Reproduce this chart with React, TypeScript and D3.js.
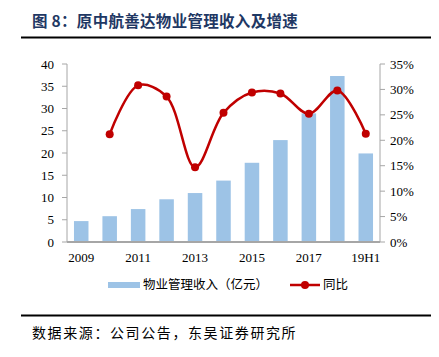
import React from "react";
import * as d3 from "d3";

const categories = ["2009", "2010", "2011", "2012", "2013", "2014", "2015", "2016", "2017", "2018", "19H1"];
const revenue = [4.7, 5.8, 7.4, 9.6, 11.0, 13.8, 17.8, 22.9, 28.9, 37.3, 19.9];
const yoy = [null, 21.2, 30.8, 28.6, 14.7, 25.4, 29.4, 29.2, 25.2, 29.8, 21.3];
const leftTicks = [0, 5, 10, 15, 20, 25, 30, 35, 40];
const rightTicks = [0, 5, 10, 15, 20, 25, 30, 35];
const xLabels = ["2009", "2011", "2013", "2015", "2017", "19H1"];

const W = 439, H = 357;
const L = 67, R = 380, T = 64, B = 242;
const serif = "'Liberation Serif', 'Times New Roman', serif";
const cjk = "'Noto Sans CJK SC', sans-serif";

export default function App() {
  const x = d3.scaleBand<string>().domain(categories).range([L, R]).paddingInner(0.49).paddingOuter(0.245);
  const yL = d3.scaleLinear().domain([0, 40]).range([B, T]);
  const yR = d3.scaleLinear().domain([0, 35]).range([B, T]);
  const pts = categories
    .map((c, i) => ({ c, v: yoy[i] }))
    .filter((d) => d.v !== null) as { c: string; v: number }[];
  const line = d3
    .line<{ c: string; v: number }>()
    .x((d) => (x(d.c) as number) + x.bandwidth() / 2)
    .y((d) => yR(d.v))
    .curve(d3.curveCatmullRom.alpha(0.5));
  const axisColor = "#a6a6a6";
  return (
    <svg width={W} height={H} style={{ position: "absolute", left: 0, top: 0, background: "#fff" }}>
      <text x={32} y={27} fontFamily={cjk} fontWeight="bold" fontSize={15.5} fill="#1f3864" letterSpacing={0.3}>
        图 8：原中航善达物业管理收入及增速
      </text>
      <line x1={21} x2={431} y1={37.5} y2={37.5} stroke="#000" strokeWidth={2} />
      {/* bars */}
      {categories.map((c, i) => (
        <rect key={c} x={x(c)} y={yL(revenue[i])} width={x.bandwidth()} height={B - yL(revenue[i])} fill="#9dc3e6" />
      ))}
      {/* left axis */}
      <line x1={L} x2={L} y1={T} y2={B} stroke={axisColor} strokeWidth={1} />
      {leftTicks.map((t) => (
        <g key={t}>
          <line x1={L - 5} x2={L} y1={yL(t)} y2={yL(t)} stroke={axisColor} />
          <text x={54} y={yL(t)} dy="0.35em" textAnchor="end" fontFamily={serif} fontSize={13} fill="#000">
            {t}
          </text>
        </g>
      ))}
      {/* right axis */}
      <line x1={R} x2={R} y1={T} y2={B} stroke={axisColor} strokeWidth={1} />
      {rightTicks.map((t) => (
        <g key={t}>
          <line x1={R} x2={R + 5} y1={yR(t)} y2={yR(t)} stroke={axisColor} />
          <text x={390} y={yR(t)} dy="0.35em" textAnchor="start" fontFamily={serif} fontSize={13} fill="#000">
            {t}%
          </text>
        </g>
      ))}
      {/* x axis */}
      <line x1={L} x2={R} y1={B} y2={B} stroke={axisColor} strokeWidth={2} />
      {xLabels.map((c) => (
        <text key={c} x={(x(c) as number) + x.bandwidth() / 2} y={262} textAnchor="middle" fontFamily={serif} fontSize={13} fill="#000">
          {c}
        </text>
      ))}
      {/* line */}
      <path d={line(pts) || ""} fill="none" stroke="#c00000" strokeWidth={2.5} />
      {pts.map((d) => (
        <circle key={d.c} cx={(x(d.c) as number) + x.bandwidth() / 2} cy={yR(d.v)} r={4} fill="#c00000" />
      ))}
      {/* legend */}
      <rect x={108} y={282} width={32} height={6} fill="#9dc3e6" />
      <text x={143} y={285} dy="0.35em" fontFamily={cjk} fontSize={12.5} fill="#000">
        物业管理收入（亿元）
      </text>
      <line x1={290} x2={320} y1={285} y2={285} stroke="#c00000" strokeWidth={2.5} />
      <circle cx={305} cy={285} r={4} fill="#c00000" />
      <text x={323} y={285} dy="0.35em" fontFamily={cjk} fontSize={12.5} fill="#000">
        同比
      </text>
      <line x1={21} x2={431} y1={315.5} y2={315.5} stroke="#000" strokeWidth={2} />
      <text x={32} y={338} fontFamily={cjk} fontSize={14} fill="#000" letterSpacing={1.6}>
        数据来源：公司公告，东吴证券研究所
      </text>
    </svg>
  );
}
